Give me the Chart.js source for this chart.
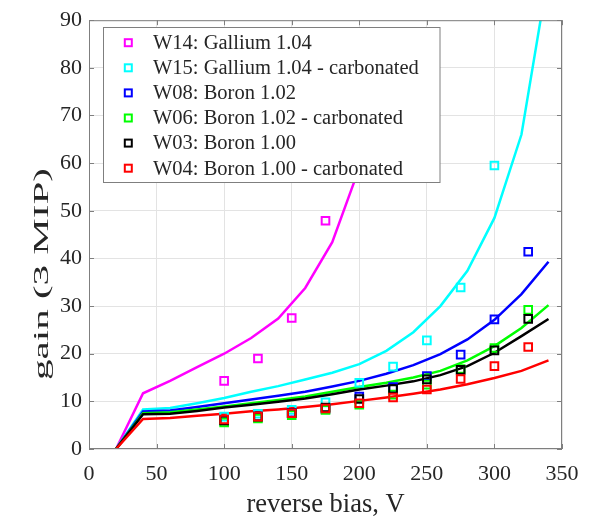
<!DOCTYPE html>
<html>
<head>
<meta charset="utf-8">
<title>gain vs reverse bias</title>
<script src="https://cdn.jsdelivr.net/npm/chart.js@4/dist/chart.umd.min.js"></script>
<style>
    html, body { margin: 0; padding: 0; background: #fff; }
    #wrap { width: 611px; height: 516px; }
</style>
</head>
<body>
<div id="wrap"><canvas id="gainChart" width="611" height="516"></canvas></div>
<script>
// ---- data ----
const seriesNames = [
    'W14: Gallium 1.04',
    'W15: Gallium 1.04 - carbonated',
    'W08: Boron 1.02',
    'W06: Boron 1.02 - carbonated',
    'W03: Boron 1.00',
    'W04: Boron 1.00 - carbonated'
];
const seriesColors = ['#ff00ff', '#00ffff', '#0000ff', '#00ff00', '#000000', '#ff0000'];

// simulated gain curves, 20 V steps
const biasSim = [20, 40, 60, 80, 100, 120, 140, 160, 180, 200, 220, 240, 260, 280, 300, 320, 340];
const simW14 = [0, 11.7, 14.3, 17.2, 20.0, 23.3, 27.4, 33.8, 43.4, 59.0];
const simW15 = [0, 8.3, 8.6, 9.6, 10.7, 12.0, 13.2, 14.6, 16.0, 17.8, 20.6, 24.5, 30.0, 37.4, 48.5, 66.0, 100.0];
const simW08 = [0, 7.9, 8.1, 8.8, 9.6, 10.4, 11.2, 12.0, 13.1, 14.3, 15.8, 17.6, 19.9, 23.0, 27.1, 32.5, 39.3];
const simW06 = [0, 7.5, 7.7, 8.3, 8.9, 9.6, 10.3, 11.0, 12.0, 13.0, 13.9, 15.0, 16.4, 18.6, 21.6, 25.4, 30.2];
const simW03 = [0, 7.3, 7.4, 8.0, 8.7, 9.3, 9.9, 10.6, 11.5, 12.5, 13.3, 14.2, 15.5, 17.4, 20.2, 23.7, 27.3];
const simW04 = [0, 6.3, 6.5, 7.0, 7.4, 7.9, 8.3, 8.8, 9.4, 10.1, 10.8, 11.6, 12.5, 13.6, 14.9, 16.4, 18.6];

// measured gain, 25 V steps
const biasMeas = [100, 125, 150, 175, 200, 225, 250, 275, 300, 325];
const measW14 = [14.3, 19.0, 27.5, 47.9];
const measW15 = [6.8, 7.4, 8.2, 9.8, 13.9, 17.3, 22.8, 33.9, 59.5];
const measW08 = [6.0, 6.8, 7.6, 8.4, 11.0, 13.0, 15.3, 19.8, 27.2, 41.4];
const measW06 = [5.6, 6.4, 7.1, 8.2, 9.3, 11.4, 13.5, 16.8, 21.2, 29.2];
const measW03 = [6.0, 6.8, 7.5, 8.7, 10.5, 12.6, 14.6, 16.6, 20.7, 27.3];
const measW04 = [6.2, 6.8, 7.5, 8.5, 9.6, 10.8, 12.5, 14.7, 17.4, 21.4];

const xTicks = [0, 50, 100, 150, 200, 250, 300, 350];
const yTicks = [0, 10, 20, 30, 40, 50, 60, 70, 80, 90];
const xTitle = 'reverse bias, V';
const yTitle = 'gain (3 MIP)';

// ---- chart ----
const FONT = '"Liberation Serif", "Times New Roman", serif';
const TEXT = '#262626';
const FRAME = '#7f7f7f';

const simSets = [simW14, simW15, simW08, simW06, simW03, simW04];
const measSets = [measW14, measW15, measW08, measW06, measW03, measW04];

function pairs(xs, ys) {
    return ys.map((v, i) => ({ x: xs[i], y: v }));
}

const datasets = [];
measSets.forEach((vals, i) => {
    datasets.push({
        label: seriesNames[i],
        data: pairs(biasMeas, vals),
        showLine: false,
        pointStyle: 'rect',
        pointRadius: 5.4,
        pointHoverRadius: 5.4,
        pointBorderWidth: 2,
        borderColor: seriesColors[i],
        pointBorderColor: seriesColors[i],
        pointBackgroundColor: 'rgba(0,0,0,0)',
        order: 5 - i
    });
});
simSets.forEach((vals, i) => {
    datasets.push({
        label: seriesNames[i] + ' (sim)',
        data: pairs(biasSim, vals),
        showLine: true,
        borderColor: seriesColors[i],
        borderWidth: 2.5,
        pointRadius: 0,
        tension: 0,
        order: 20 - i
    });
});

// axes box with inward ticks, axis titles and the boxed legend
const frameAndLegend = {
    id: 'frameAndLegend',
    afterDraw(chart) {
        const { ctx, chartArea: a, scales: { x, y } } = chart;
        ctx.save();

        ctx.strokeStyle = FRAME;
        ctx.lineWidth = 1;
        ctx.strokeRect(a.left + 0.5, a.top + 0.5, a.right - a.left - 1, a.bottom - a.top - 1);
        ctx.beginPath();
        xTicks.forEach(t => {
            const px = Math.round(x.getPixelForValue(t)) + 0.5;
            ctx.moveTo(px, a.bottom); ctx.lineTo(px, a.bottom - 5);
            ctx.moveTo(px, a.top); ctx.lineTo(px, a.top + 5);
        });
        yTicks.forEach(t => {
            const py = Math.round(y.getPixelForValue(t)) + 0.5;
            ctx.moveTo(a.left, py); ctx.lineTo(a.left + 5, py);
            ctx.moveTo(a.right, py); ctx.lineTo(a.right - 5, py);
        });
        ctx.stroke();

        // axis titles
        ctx.fillStyle = TEXT;
        ctx.font = '26.5px ' + FONT;
        ctx.textAlign = 'center';
        ctx.textBaseline = 'alphabetic';
        ctx.fillText(xTitle, (a.left + a.right) / 2, 512);

        ctx.save();
        ctx.translate(48, 274);
        ctx.rotate(-Math.PI / 2);
        ctx.font = '22px ' + FONT;
        const w = ctx.measureText(yTitle).width;
        ctx.scale(212 / w, 1);
        ctx.fillText(yTitle, 0, 0);
        ctx.restore();

        // legend
        const bx = 103.5, by = 27.5, bw = 336.5, bh = 155;
        ctx.fillStyle = '#ffffff';
        ctx.fillRect(bx, by, bw, bh);
        ctx.strokeStyle = FRAME;
        ctx.strokeRect(bx, by, bw, bh);
        ctx.font = '20.5px ' + FONT;
        ctx.textAlign = 'left';
        ctx.textBaseline = 'middle';
        seriesNames.forEach((name, i) => {
            const cy = 42.7 + i * 25.1;
            ctx.strokeStyle = seriesColors[i];
            ctx.lineWidth = 2;
            ctx.strokeRect(128.3 - 3.5, cy - 3.5, 7, 7);
            ctx.fillStyle = TEXT;
            ctx.fillText(name, 153, cy + 1);
        });

        ctx.restore();
    }
};

new Chart(document.getElementById('gainChart'), {
    type: 'scatter',
    data: { datasets: datasets },
    options: {
        responsive: false,
        animation: false,
        events: [],
        layout: { padding: { top: 14, right: 49, left: 0, bottom: 0 } },
        plugins: {
            legend: { display: false },
            tooltip: { enabled: false }
        },
        scales: {
            x: {
                type: 'linear',
                min: 0,
                max: 350,
                afterFit: s => { s.height = 67; },
                afterBuildTicks: s => { s.ticks = xTicks.map(v => ({ value: v })); },
                grid: { color: '#e3e3e3', drawTicks: false },
                border: { display: false },
                ticks: {
                    autoSkip: false,
                    maxRotation: 0,
                    padding: 12,
                    color: TEXT,
                    font: { family: FONT, size: 22 }
                }
            },
            y: {
                type: 'linear',
                min: 0,
                max: 90,
                afterFit: s => { s.width = 89; },
                afterBuildTicks: s => { s.ticks = yTicks.map(v => ({ value: v })); },
                grid: { color: '#e3e3e3', drawTicks: false },
                border: { display: false },
                ticks: {
                    autoSkip: false,
                    padding: 7,
                    color: TEXT,
                    font: { family: FONT, size: 22 }
                }
            }
        }
    },
    plugins: [frameAndLegend]
});
</script>
</body>
</html>
